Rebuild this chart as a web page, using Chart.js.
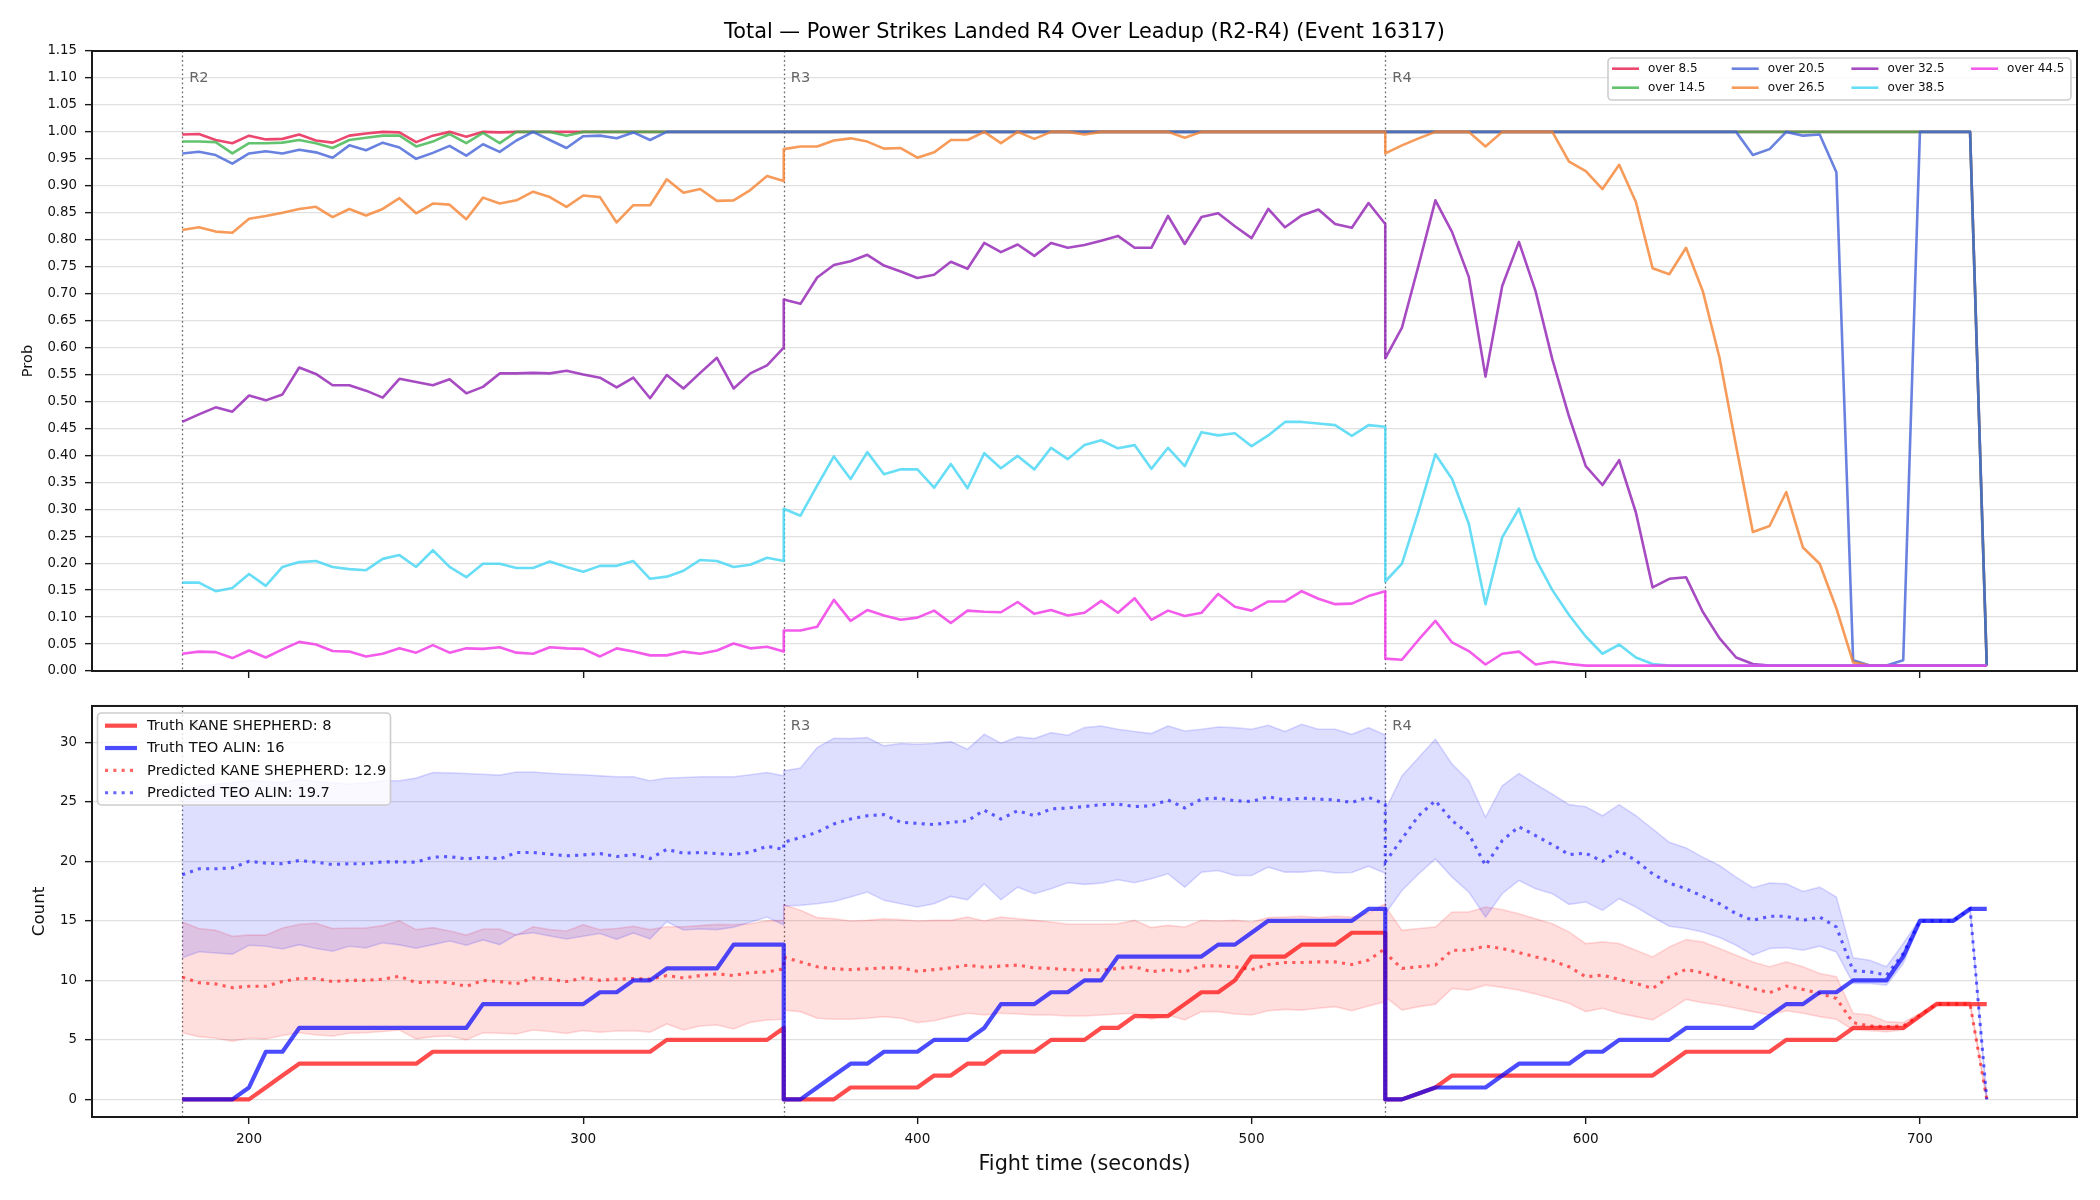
<!DOCTYPE html>
<html>
<head>
<meta charset="utf-8">
<script src="https://cdn.jsdelivr.net/npm/chart.js@4.4.1/dist/chart.umd.min.js"></script>
<style>
  html, body { margin: 0; padding: 0; background: #fff; }
  #wrap { position: relative; width: 2100px; height: 1200px; }
  #probChart { position: absolute; left: 0; top: 0; }
  #countChart { position: absolute; left: 0; top: 690px; }
</style>
</head>
<body>
<div id="wrap">
  <canvas id="probChart" width="2100" height="690"></canvas>
  <canvas id="countChart" width="2100" height="510"></canvas>
</div>
<script>
(() => {
  'use strict'

  const FONT = '"DejaVu Sans", "Liberation Sans", sans-serif'

  // Rondas y eje de tiempo (una muestra cada 5 s, con los dos extremos de cada ronda)
  const roundStarts = [180, 360, 540]
  const roundNames = ['R2', 'R3', 'R4']
  const sampleStep = 5
  const samplesPerRound = 37
  const timeTicks = [200, 300, 400, 500, 600, 700]
  const probTicks = [0, 0.05, 0.1, 0.15, 0.2, 0.25, 0.3, 0.35, 0.4, 0.45, 0.5, 0.55,
    0.6, 0.65, 0.7, 0.75, 0.8, 0.85, 0.9, 0.95, 1, 1.05, 1.1, 1.15]
  const countTicks = [0, 5, 10, 15, 20, 25, 30]

  const fightTime = []
  roundStarts.forEach(s => {
    for (let i = 0; i < samplesPerRound; i++) fightTime.push(s + i * sampleStep)
  })

  // Probabilidades "over" (R2 | R3 | R4)
  const over8_5 = [
    0.995, 0.996, 0.985, 0.979, 0.993, 0.986, 0.987, 0.995, 0.984, 0.980, 0.993, 0.997, 1, 0.999, 0.981, 0.993, 1, 0.991, 1, 0.999, 1,
    1, 1, 1, 1, 1, 1, 1, 1, 1, 1, 1, 1, 1, 1, 1, 1,
    1, 1, 1, 1, 1, 1, 1, 1, 1, 1, 1, 1, 1, 1, 1, 1, 1, 1, 1, 1, 1, 1, 1, 1, 1, 1, 1, 1, 1, 1, 1, 1, 1, 1, 1, 1, 1,
    1, 1, 1, 1, 1, 1, 1, 1, 1, 1, 1, 1, 1, 1, 1, 1, 1, 1, 1, 1, 1, 1, 1, 1, 1, 1, 1, 1, 1, 1, 1, 1, 1, 1, 1, 1, 0.01
  ]
  const over14_5 = [
    0.982, 0.982, 0.981, 0.960, 0.979, 0.979, 0.980, 0.985, 0.979, 0.970, 0.985, 0.989, 0.993, 0.993, 0.973, 0.982, 0.996, 0.979, 0.998, 0.979,
    1, 1, 1, 0.993, 1, 1, 1, 1, 1, 1, 1, 1, 1, 1, 1, 1, 1,
    1, 1, 1, 1, 1, 1, 1, 1, 1, 1, 1, 1, 1, 1, 1, 1, 1, 1, 1, 1, 1, 1, 1, 1, 1, 1, 1, 1, 1, 1, 1, 1, 1, 1, 1, 1, 1,
    1, 1, 1, 1, 1, 1, 1, 1, 1, 1, 1, 1, 1, 1, 1, 1, 1, 1, 1, 1, 1, 1, 1, 1, 1, 1, 1, 1, 1, 1, 1, 1, 1, 1, 1, 1, 0.01
  ]
  const over20_5 = [
    0.960, 0.963, 0.957, 0.941, 0.960, 0.964, 0.960, 0.967, 0.962, 0.952, 0.975, 0.966, 0.980, 0.971, 0.950, 0.961, 0.974, 0.956, 0.977, 0.963,
    0.984, 1, 0.985, 0.970, 0.992, 0.993, 0.988, 0.999, 0.985, 1, 1, 1, 1, 1, 1, 1, 1,
    1, 1, 1, 1, 1, 1, 1, 1, 1, 1, 1, 1, 1, 1, 1, 1, 1, 1, 1, 1, 1, 1, 1, 1, 1, 1, 1, 1, 1, 1, 1, 1, 1, 1, 1, 1, 1,
    1, 1, 1, 1, 1, 1, 1, 1, 1, 1, 1, 1, 1, 1, 1, 1, 1, 1, 1, 1, 1, 1,
    0.957, 0.968, 1, 0.993, 0.995, 0.925, 0.02, 0.01, 0.01, 0.02, 1, 1, 1, 1, 0.01
  ]
  const over26_5 = [
    0.818, 0.823, 0.815, 0.813, 0.839, 0.844, 0.850, 0.857, 0.861, 0.842, 0.857, 0.845, 0.857, 0.877, 0.849, 0.867, 0.865, 0.838, 0.878, 0.867,
    0.873, 0.889, 0.879, 0.861, 0.882, 0.879, 0.832, 0.864, 0.864, 0.912, 0.887, 0.894, 0.872, 0.873, 0.892, 0.918, 0.909,
    0.968, 0.973, 0.973, 0.984, 0.988, 0.982, 0.969, 0.970, 0.952, 0.962, 0.985, 0.985, 1, 0.979, 1, 0.987, 1, 1, 0.995, 1,
    1, 1, 1, 1, 0.989, 1, 1, 1, 1, 1, 1, 1, 1, 1, 1, 1, 1,
    0.960, 0.975, 0.988, 1, 1, 1, 0.973, 1, 1, 1, 1, 0.945, 0.927, 0.894, 0.939, 0.870, 0.747, 0.736, 0.785, 0.705,
    0.582, 0.417, 0.258, 0.269, 0.332, 0.229, 0.199, 0.116, 0.016, 0.01, 0.01, 0.01, 0.01, 0.01, 0.01, 0.01, 0.01
  ]
  const over32_5 = [
    0.462, 0.476, 0.489, 0.481, 0.511, 0.502, 0.513, 0.563, 0.551, 0.530, 0.530, 0.520, 0.507, 0.542, 0.536, 0.530, 0.541, 0.515, 0.527, 0.552,
    0.552, 0.553, 0.552, 0.557, 0.550, 0.544, 0.526, 0.544, 0.506, 0.549, 0.524, 0.553, 0.581, 0.524, 0.552, 0.567, 0.600,
    0.689, 0.681, 0.730, 0.753, 0.760, 0.772, 0.752, 0.741, 0.729, 0.735, 0.759, 0.746, 0.794, 0.777, 0.791, 0.770, 0.794, 0.785, 0.790, 0.798,
    0.807, 0.785, 0.785, 0.844, 0.792, 0.842, 0.849, 0.825, 0.803, 0.857, 0.823, 0.845, 0.856, 0.829, 0.822, 0.868, 0.829,
    0.580, 0.637, 0.753, 0.873, 0.814, 0.731, 0.546, 0.714, 0.796, 0.704, 0.578, 0.472, 0.380, 0.345, 0.391, 0.294, 0.155, 0.171, 0.174, 0.110,
    0.061, 0.025, 0.013, 0.01, 0.01, 0.01, 0.01, 0.01, 0.01, 0.01, 0.01, 0.01, 0.01, 0.01, 0.01, 0.01, 0.01
  ]
  const over38_5 = [
    0.164, 0.164, 0.148, 0.154, 0.180, 0.158, 0.193, 0.202, 0.204, 0.193, 0.189, 0.187, 0.208, 0.215, 0.193, 0.224, 0.193, 0.174, 0.199, 0.199,
    0.191, 0.191, 0.203, 0.193, 0.184, 0.195, 0.195, 0.204, 0.171, 0.175, 0.186, 0.206, 0.204, 0.193, 0.197, 0.210, 0.204,
    0.301, 0.288, 0.344, 0.398, 0.356, 0.406, 0.365, 0.374, 0.374, 0.340, 0.384, 0.339, 0.404, 0.376, 0.399, 0.374, 0.414, 0.393, 0.419, 0.428,
    0.413, 0.419, 0.375, 0.414, 0.380, 0.443, 0.437, 0.441, 0.417, 0.437, 0.462, 0.462, 0.459, 0.456, 0.436, 0.456, 0.453,
    0.166, 0.199, 0.297, 0.402, 0.356, 0.273, 0.124, 0.248, 0.301, 0.208, 0.150, 0.104, 0.064, 0.032, 0.049, 0.025, 0.013, 0.01, 0.01, 0.01,
    0.01, 0.01, 0.01, 0.01, 0.01, 0.01, 0.01, 0.01, 0.01, 0.01, 0.01, 0.01, 0.01, 0.01, 0.01, 0.01, 0.01
  ]
  const over44_5 = [
    0.032, 0.036, 0.035, 0.024, 0.038, 0.025, 0.040, 0.054, 0.049, 0.037, 0.036, 0.027, 0.032, 0.042, 0.034, 0.048, 0.034, 0.042, 0.041, 0.044,
    0.034, 0.032, 0.044, 0.042, 0.041, 0.027, 0.042, 0.036, 0.029, 0.029, 0.036, 0.032, 0.038, 0.051, 0.042, 0.045, 0.036,
    0.075, 0.075, 0.082, 0.132, 0.093, 0.113, 0.103, 0.095, 0.099, 0.112, 0.089, 0.112, 0.110, 0.109, 0.128, 0.106, 0.113, 0.103, 0.108, 0.130,
    0.108, 0.135, 0.095, 0.112, 0.102, 0.108, 0.143, 0.119, 0.112, 0.129, 0.129, 0.148, 0.134, 0.124, 0.125, 0.139, 0.148,
    0.023, 0.021, 0.058, 0.093, 0.053, 0.037, 0.012, 0.032, 0.036, 0.012, 0.017, 0.013, 0.01, 0.01, 0.01, 0.01, 0.01, 0.01, 0.01, 0.01,
    0.01, 0.01, 0.01, 0.01, 0.01, 0.01, 0.01, 0.01, 0.01, 0.01, 0.01, 0.01, 0.01, 0.01, 0.01, 0.01, 0.01
  ]

  // Conteos reales, predicción y bandas (R2 | R3 | R4)
  const truthKane = [
    0, 0, 0, 0, 0, 1, 2, 3, 3, 3, 3, 3, 3, 3, 3, 4, 4, 4, 4, 4, 4, 4, 4, 4, 4, 4, 4, 4, 4, 5, 5, 5, 5, 5, 5, 5, 6,
    0, 0, 0, 0, 1, 1, 1, 1, 1, 2, 2, 3, 3, 4, 4, 4, 5, 5, 5, 6, 6, 7, 7, 7, 8, 9, 9, 10, 12, 12, 12, 13, 13, 13, 14, 14, 14,
    0, 0, 0.5, 1, 2, 2, 2, 2, 2, 2, 2, 2, 2, 2, 2, 2, 2, 3, 4, 4, 4, 4, 4, 4, 5, 5, 5, 5, 6, 6, 6, 6, 7, 8, 8, 8, 8
  ]
  const truthTeo = [
    0, 0, 0, 0, 1, 4, 4, 6, 6, 6, 6, 6, 6, 6, 6, 6, 6, 6, 8, 8, 8, 8, 8, 8, 8, 9, 9, 10, 10, 11, 11, 11, 11, 13, 13, 13, 13,
    0, 0, 1, 2, 3, 3, 4, 4, 4, 5, 5, 5, 6, 8, 8, 8, 9, 9, 10, 10, 12, 12, 12, 12, 12, 12, 13, 13, 14, 15, 15, 15, 15, 15, 15, 16, 16,
    0, 0, 0.5, 1, 1, 1, 1, 2, 3, 3, 3, 3, 4, 4, 5, 5, 5, 5, 6, 6, 6, 6, 6, 7, 8, 8, 9, 9, 10, 10, 10, 12, 15, 15, 15, 16, 16
  ]
  const predKane = [
    10.27, 9.8, 9.7, 9.38, 9.5, 9.5, 9.9, 10.15, 10.15, 9.9, 10.0, 10.0, 10.1, 10.35, 9.8, 9.9, 9.8, 9.5, 10.0, 9.9,
    9.7, 10.2, 10.1, 9.9, 10.2, 10.0, 10.1, 10.15, 10.1, 10.4, 10.2, 10.4, 10.55, 10.4, 10.66, 10.7, 10.97,
    11.95, 11.55, 11.14, 10.97, 10.9, 10.97, 11.05, 11.05, 10.77, 10.9, 11.05, 11.28, 11.1, 11.2, 11.28, 11.05, 11.0, 10.9, 10.86, 10.86,
    11.0, 11.14, 10.72, 10.9, 10.72, 11.22, 11.22, 11.14, 10.9, 11.33, 11.5, 11.5, 11.55, 11.55, 11.33, 11.7, 12.67,
    12.3, 11.0, 11.14, 11.28, 12.53, 12.53, 12.87, 12.67, 12.34, 11.97, 11.64, 11.14, 10.3, 10.44, 10.08, 9.74, 9.32, 10.3, 10.91, 10.63,
    10.16, 9.69, 9.32, 8.96, 9.52, 9.24, 8.9, 8.48, 6.45, 6.17, 6.11, 6.17, 7.09, 8.0, 8.0, 8.0, 0
  ]
  const predTeo = [
    18.87, 19.37, 19.37, 19.45, 20.0, 19.85, 19.8, 20.07, 19.93, 19.73, 19.8, 19.8, 19.95, 19.95, 19.93, 20.35, 20.4, 20.2, 20.35, 20.2,
    20.74, 20.74, 20.6, 20.46, 20.54, 20.65, 20.4, 20.57, 20.23, 21.0, 20.68, 20.74, 20.65, 20.57, 20.77, 21.27, 21.0,
    21.6, 22.0, 22.44, 23.14, 23.56, 23.83, 23.92, 23.28, 23.19, 23.08, 23.28, 23.4, 24.3, 23.56, 24.25, 23.83, 24.4, 24.48, 24.6, 24.76,
    24.8, 24.6, 24.67, 25.15, 24.48, 25.23, 25.31, 25.09, 25.03, 25.42, 25.15, 25.31, 25.23, 25.15, 24.95, 25.37, 24.8,
    19.93, 21.88, 23.83, 25.09, 23.42, 22.3, 19.65, 21.74, 22.91, 22.16, 21.4, 20.57, 20.68, 20.0, 20.9, 20.07, 18.95, 18.17, 17.69, 17.05,
    16.44, 15.6, 15.04, 15.38, 15.38, 15.04, 15.32, 14.48, 10.8, 10.72, 10.44, 12.25, 15.0, 15.0, 15.0, 16.0, 0
  ]
  const kaneHi = [
    14.9, 14.35, 14.2, 13.7, 13.8, 13.8, 14.4, 14.7, 14.8, 14.35, 14.4, 14.4, 14.6, 15.0, 14.26, 14.43, 14.15, 13.8, 14.3, 14.3,
    13.8, 14.5, 14.26, 14.15, 14.68, 14.26, 14.35, 14.54, 14.26, 14.5, 14.5, 14.6, 14.7, 14.68, 14.76, 15.0, 15.04,
    16.35, 15.88, 15.27, 15.18, 14.99, 15.04, 15.18, 15.1, 14.99, 15.04, 15.04, 15.32, 14.99, 15.32, 15.18, 15.04, 14.9, 14.71, 14.71, 14.71,
    14.76, 15.04, 14.43, 14.62, 14.48, 15.04, 14.99, 15.04, 14.9, 15.27, 15.32, 15.38, 15.27, 15.38, 15.32, 15.66, 16.44,
    16.2, 14.2, 14.35, 14.48, 15.74, 15.74, 16.16, 15.94, 15.6, 15.18, 14.76, 14.07, 13.09, 13.23, 13.09, 12.53, 11.97, 12.81, 13.42, 13.23,
    12.67, 12.11, 11.55, 11.14, 11.55, 11.14, 10.58, 10.3, 7.23, 7.09, 6.53, 6.45, 7.23, 8.2, 8.2, 8.2, 0.1
  ]
  const kaneLo = [
    5.6, 5.27, 5.14, 4.88, 5.14, 5.08, 5.36, 5.6, 5.41, 5.33, 5.55, 5.6, 5.7, 5.83, 5.08, 5.27, 5.33, 5.0, 5.6, 5.55,
    5.5, 5.83, 5.7, 5.55, 5.78, 5.64, 5.75, 5.78, 5.64, 6.34, 5.83, 6.17, 6.25, 5.92, 6.47, 6.67, 6.73,
    7.5, 7.37, 6.81, 6.73, 6.73, 6.81, 6.95, 6.81, 6.45, 6.61, 6.95, 7.23, 7.09, 7.23, 7.17, 7.09, 7.09, 7.0, 7.0, 7.09,
    7.17, 7.23, 6.73, 7.09, 6.67, 7.37, 7.37, 7.17, 7.09, 7.45, 7.56, 7.5, 7.65, 7.79, 7.45, 7.84, 8.2,
    8.62, 7.5, 7.79, 8.0, 9.32, 9.18, 9.6, 9.41, 9.18, 8.85, 8.48, 8.07, 7.37, 7.65, 7.23, 6.95, 6.67, 7.5, 8.4, 8.12,
    7.93, 7.65, 7.37, 7.09, 7.45, 7.23, 6.95, 6.73, 5.83, 5.78, 5.69, 5.83, 6.95, 7.93, 7.93, 7.93, 0
  ]
  const teoHi = [
    26.0, 26.3, 26.5, 26.6, 26.8, 26.7, 26.6, 26.9, 26.7, 26.6, 26.5, 26.6, 26.77, 26.77, 26.99, 27.46, 27.43, 27.38, 27.32, 27.24,
    27.5, 27.5, 27.4, 27.32, 27.27, 27.18, 27.1, 27.1, 26.77, 27.0, 27.04, 27.1, 27.1, 27.1, 27.27, 27.46, 27.18,
    27.6, 27.83, 29.56, 30.34, 30.31, 30.4, 29.7, 29.9, 29.84, 29.9, 30.06, 29.42, 30.67, 29.92, 30.45, 30.31, 30.81, 30.59, 31.23, 31.37,
    31.09, 30.9, 30.73, 31.37, 30.95, 31.09, 31.29, 31.23, 31.09, 31.43, 30.9, 31.51, 31.09, 31.09, 30.67, 31.23, 30.62,
    24.3, 27.18, 28.72, 30.25, 28.16, 26.77, 23.7, 26.35, 27.38, 26.49, 25.65, 24.76, 24.59, 23.83, 24.76, 23.83, 22.72, 21.6, 21.13, 20.35,
    19.65, 18.67, 17.78, 18.17, 18.11, 17.47, 17.83, 17.0, 11.89, 11.69, 11.14, 13.09, 15.18, 15.18, 15.18, 16.1, 0.1
  ]
  const teoLo = [
    11.9, 12.4, 12.3, 12.2, 12.95, 12.87, 12.64, 13.0, 12.67, 12.45, 12.87, 12.73, 13.15, 12.98, 12.7, 13.0, 13.3, 12.95, 13.4, 13.0,
    13.84, 14.0, 13.73, 13.48, 13.7, 13.93, 13.45, 13.98, 13.48, 14.93, 14.23, 14.32, 14.26, 14.46, 14.88, 15.32, 14.65,
    16.24, 16.3, 16.44, 16.63, 17.0, 17.42, 16.72, 16.44, 16.16, 16.44, 17.05, 16.77, 18.11, 16.77, 17.83, 17.28, 17.69, 18.2, 18.06, 18.17,
    18.45, 18.2, 18.53, 18.95, 17.83, 19.09, 19.23, 18.81, 18.81, 19.51, 19.09, 19.09, 19.23, 19.03, 19.06, 19.59, 19.0,
    15.6, 17.55, 18.95, 20.2, 18.67, 17.42, 15.32, 17.28, 18.39, 17.69, 17.28, 16.38, 16.58, 15.88, 16.86, 16.16, 15.32, 14.54, 14.35, 14.07,
    13.59, 12.95, 12.11, 12.67, 12.75, 12.53, 12.87, 12.39, 9.74, 9.74, 9.6, 11.41, 14.9, 14.9, 14.9, 15.94, 0
  ]

  const probLabels = ['over 8.5', 'over 14.5', 'over 20.5', 'over 26.5', 'over 32.5', 'over 38.5', 'over 44.5']
  const probValues = [over8_5, over14_5, over20_5, over26_5, over32_5, over38_5, over44_5]
  const probColors = [
    'rgba(230,25,75,0.8)', 'rgba(60,180,75,0.8)', 'rgba(67,99,216,0.8)', 'rgba(245,130,49,0.8)',
    'rgba(145,30,180,0.8)', 'rgba(66,212,244,0.8)', 'rgba(240,50,230,0.8)'
  ]

  const pts = arr => fightTime.map((t, i) => ({ x: t, y: arr[i] }))

  Chart.defaults.font.family = FONT
  Chart.defaults.color = '#111'

  // Marco completo del área (como los ejes de matplotlib)
  const framePlugin = {
    id: 'frame',
    afterDatasetsDraw(chart) {
      const { ctx, chartArea: a } = chart
      ctx.save()
      ctx.strokeStyle = '#1a1a1a'
      ctx.lineWidth = 2
      ctx.strokeRect(a.left, a.top, a.right - a.left, a.bottom - a.top)
      ctx.restore()
    }
  }

  // Líneas verticales de inicio de ronda y sus etiquetas
  function roundMarks(labelOffset) {
    return {
      id: 'roundMarks',
      beforeDatasetsDraw(chart) {
        const { ctx, chartArea: a, scales: { x } } = chart
        ctx.save()
        ctx.strokeStyle = 'rgba(70,70,70,0.8)'
        ctx.lineWidth = 1.3
        ctx.setLineDash([1.7, 2.8])
        roundStarts.forEach(t => {
          const px = Math.round(x.getPixelForValue(t)) + 0.5
          ctx.beginPath()
          ctx.moveTo(px, a.top)
          ctx.lineTo(px, a.bottom)
          ctx.stroke()
        })
        ctx.setLineDash([])
        ctx.fillStyle = '#666'
        ctx.font = `14.6px ${FONT}`
        ctx.textBaseline = 'middle'
        ctx.textAlign = 'left'
        roundStarts.forEach((t, i) => {
          ctx.fillText(roundNames[i], x.getPixelForValue(t) + 7, a.top + labelOffset)
        })
        ctx.restore()
      }
    }
  }

  // Leyenda dentro del área, estilo matplotlib
  function drawLegend(ctx, box, items, fontSize) {
    ctx.save()
    const r = 4
    ctx.beginPath()
    ctx.moveTo(box.x + r, box.y)
    ctx.arcTo(box.x + box.w, box.y, box.x + box.w, box.y + box.h, r)
    ctx.arcTo(box.x + box.w, box.y + box.h, box.x, box.y + box.h, r)
    ctx.arcTo(box.x, box.y + box.h, box.x, box.y, r)
    ctx.arcTo(box.x, box.y, box.x + box.w, box.y, r)
    ctx.closePath()
    ctx.fillStyle = 'rgba(255,255,255,0.8)'
    ctx.fill()
    ctx.strokeStyle = 'rgba(200,200,200,0.9)'
    ctx.lineWidth = 1.6
    ctx.stroke()
    ctx.font = `${fontSize}px ${FONT}`
    ctx.textBaseline = 'middle'
    ctx.textAlign = 'left'
    items.forEach(it => {
      ctx.strokeStyle = it.color
      ctx.lineWidth = it.width
      ctx.lineCap = 'butt'
      ctx.setLineDash(it.dash || [])
      ctx.beginPath()
      ctx.moveTo(it.x, it.y)
      ctx.lineTo(it.x + it.len, it.y)
      ctx.stroke()
      ctx.setLineDash([])
      ctx.fillStyle = '#111'
      ctx.fillText(it.text, it.tx, it.y + 0.5)
    })
    ctx.restore()
  }

  const probLegend = {
    id: 'probLegend',
    afterDraw(chart) {
      const a = chart.chartArea
      const box = { x: a.right - 6 - 463, y: a.top + 7, w: 463, h: 42 }
      const items = probLabels.map((label, i) => {
        const col = Math.floor(i / 2)
        const row = i % 2
        const lx = box.x + 4 + col * 119.7
        return { text: label, color: probColors[i], width: 2.6, x: lx, len: 27, tx: lx + 36, y: box.y + 10.7 + row * 19 }
      })
      drawLegend(chart.ctx, box, items, 12)
    }
  }

  const titlePlugin = {
    id: 'topTitle',
    afterDraw(chart) {
      const { ctx, chartArea: a } = chart
      ctx.save()
      ctx.fillStyle = '#000'
      ctx.font = `20.8px ${FONT}`
      ctx.textAlign = 'center'
      ctx.textBaseline = 'middle'
      ctx.fillText('Total — Power Strikes Landed R4 Over Leadup (R2-R4) (Event 16317)', (a.left + a.right) / 2, 33)
      ctx.restore()
    }
  }

  const countLegendItems = [
    { text: 'Truth KANE SHEPHERD: 8', color: 'rgba(255,0,0,0.7)', width: 4.2 },
    { text: 'Truth TEO ALIN: 16', color: 'rgba(0,0,255,0.7)', width: 4.2 },
    { text: 'Predicted KANE SHEPHERD: 12.9', color: 'rgba(255,0,0,0.6)', width: 3.1, dash: [3.1, 5.2] },
    { text: 'Predicted TEO ALIN: 19.7', color: 'rgba(0,0,255,0.6)', width: 3.1, dash: [3.1, 5.2] }
  ]

  const countLegend = {
    id: 'countLegend',
    afterDraw(chart) {
      const a = chart.chartArea
      const box = { x: a.left + 5.5, y: a.top + 7, w: 293, h: 92 }
      const items = countLegendItems.map((it, i) => Object.assign({}, it, {
        x: box.x + 7.5, len: 32, tx: box.x + 49.6, y: box.y + 12.7 + i * 22.35
      }))
      drawLegend(chart.ctx, box, items, 14.6)
    }
  }

  const gridStyle = { color: 'rgba(0,0,0,0.12)', lineWidth: 1.3, tickLength: 7, tickColor: '#1a1a1a', tickWidth: 1.4 }

  // Gráfico superior: probabilidades
  new Chart(document.getElementById('probChart'), {
    type: 'line',
    data: {
      datasets: probLabels.map((label, i) => ({
        label,
        data: pts(probValues[i]),
        borderColor: probColors[i],
        backgroundColor: probColors[i],
        borderWidth: 2.6,
        borderJoinStyle: 'round',
        pointRadius: 0,
        tension: 0,
        fill: false,
        order: probLabels.length - i
      }))
    },
    options: {
      responsive: false,
      animation: false,
      devicePixelRatio: 1,
      layout: { padding: { top: 51, right: 23, bottom: 0, left: 0 } },
      plugins: { legend: { display: false }, tooltip: { enabled: false } },
      scales: {
        x: {
          type: 'linear',
          min: 153,
          max: 747,
          afterBuildTicks: s => { s.ticks = timeTicks.map(v => ({ value: v })) },
          afterFit: s => { s.height = 19 },
          grid: Object.assign({}, gridStyle, { drawOnChartArea: false }),
          border: { display: false },
          ticks: { color: 'rgba(0,0,0,0)', font: { size: 13.5 } }
        },
        y: {
          min: 0,
          max: 1.15,
          afterBuildTicks: s => { s.ticks = probTicks.map(v => ({ value: v })) },
          afterFit: s => { s.width = 92 },
          grid: gridStyle,
          border: { display: false },
          ticks: { font: { size: 13.3 }, padding: 8, callback: v => Number(v).toFixed(2) },
          title: { display: true, text: 'Prob', font: { size: 14.6 }, padding: { top: 19.6 } }
        }
      }
    },
    plugins: [roundMarks(27), framePlugin, probLegend, titlePlugin]
  })

  // Gráfico inferior: conteos
  const band = (label, arr, rgb, fillTarget, order) => ({
    label,
    data: pts(arr),
    borderColor: `rgba(${rgb},0.14)`,
    backgroundColor: `rgba(${rgb},0.13)`,
    borderWidth: 1.6,
    pointRadius: 0,
    tension: 0,
    fill: fillTarget,
    order
  })

  new Chart(document.getElementById('countChart'), {
    type: 'line',
    data: {
      datasets: [
        band('kaneHi', kaneHi, '255,0,0', '+1', 8),
        band('kaneLo', kaneLo, '255,0,0', false, 7),
        band('teoHi', teoHi, '0,0,255', '+1', 6),
        band('teoLo', teoLo, '0,0,255', false, 5),
        {
          label: 'Predicted KANE SHEPHERD', data: pts(predKane), borderColor: 'rgba(255,0,0,0.6)',
          borderWidth: 3.1, borderDash: [3.1, 5.2], pointRadius: 0, tension: 0, fill: false, order: 4
        },
        {
          label: 'Predicted TEO ALIN', data: pts(predTeo), borderColor: 'rgba(0,0,255,0.6)',
          borderWidth: 3.1, borderDash: [3.1, 5.2], pointRadius: 0, tension: 0, fill: false, order: 3
        },
        {
          label: 'Truth KANE SHEPHERD', data: pts(truthKane), borderColor: 'rgba(255,0,0,0.7)',
          borderWidth: 4.2, borderJoinStyle: 'round', pointRadius: 0, tension: 0, fill: false, order: 2
        },
        {
          label: 'Truth TEO ALIN', data: pts(truthTeo), borderColor: 'rgba(0,0,255,0.7)',
          borderWidth: 4.2, borderJoinStyle: 'round', pointRadius: 0, tension: 0, fill: false, order: 1
        }
      ]
    },
    options: {
      responsive: false,
      animation: false,
      devicePixelRatio: 1,
      layout: { padding: { top: 14, right: 23, bottom: 0, left: 0 } },
      plugins: { legend: { display: false }, tooltip: { enabled: false } },
      scales: {
        x: {
          type: 'linear',
          min: 153,
          max: 747,
          afterBuildTicks: s => { s.ticks = timeTicks.map(v => ({ value: v })) },
          afterFit: s => { s.height = 83 },
          grid: Object.assign({}, gridStyle, { drawOnChartArea: false }),
          border: { display: false },
          ticks: { font: { size: 13.6 }, padding: 7, maxRotation: 0 },
          title: { display: true, text: 'Fight time (seconds)', font: { size: 20.8 }, padding: { top: 0, bottom: 22.5 } }
        },
        y: {
          min: -1.48,
          max: 33.05,
          afterBuildTicks: s => { s.ticks = countTicks.map(v => ({ value: v })) },
          afterFit: s => { s.width = 92 },
          grid: gridStyle,
          border: { display: false },
          ticks: { font: { size: 13.3 }, padding: 8 },
          title: { display: true, text: 'Count', font: { size: 16.7 }, padding: { top: 30 } }
        }
      }
    },
    plugins: [roundMarks(20.4), framePlugin, countLegend]
  })
})()
</script>
</body>
</html>
